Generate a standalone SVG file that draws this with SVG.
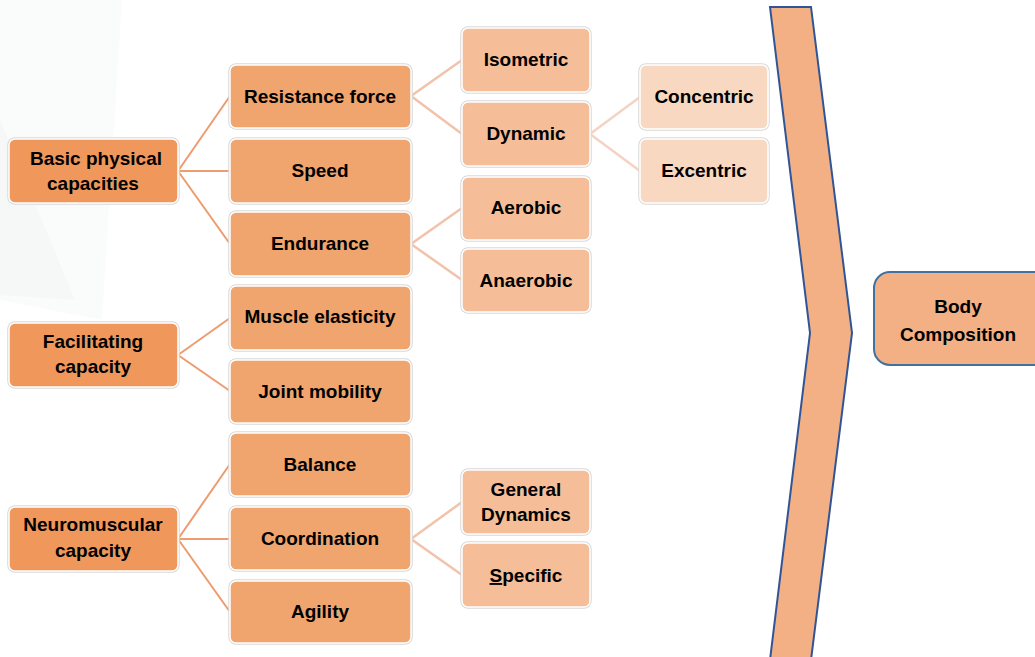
<svg xmlns="http://www.w3.org/2000/svg" width="1035" height="657" viewBox="0 0 1035 657">
<style>
text{font-family:"Liberation Sans",Arial,sans-serif;font-weight:bold;font-size:19px;fill:#000;text-anchor:middle}
.sh{fill:none;stroke:#d9d9d9;stroke-width:3.5}
.bx{stroke:#fff;stroke-width:1.5}
.l1{fill:#F0975C}
.l2{fill:#F0A56E}
.l3{fill:#F5BE98}
.l4{fill:#F8D8C0}
.c1{stroke:#EE9B6E;stroke-width:2;fill:none}
.c2{stroke:#F2C3AA;stroke-width:2.5;fill:none}
.c3{stroke:#F5D3C2;stroke-width:2.5;fill:none}
</style>
<rect width="1035" height="657" fill="#fff"/>
<g id="background">
<polygon points="0,0 122,0 102,320 0,300" fill="#FAFBFB"/>
<polygon points="0,120 75,300 0,295" fill="#F6F8F8"/>
</g>
<g id="connectors">
<path class="c1" d="M178,171 L230,96 M178,171 L230,171 M178,171 L230,244"/>
<path class="c1" d="M178,355 L230,318 M178,355 L230,391"/>
<path class="c1" d="M178,539 L230,464 M178,539 L230,539 M178,539 L230,612"/>
<path class="c2" d="M411,96 L462,60 M411,96 L462,134"/>
<path class="c2" d="M411,244 L462,208 M411,244 L462,280"/>
<path class="c2" d="M411,539 L462,502 M411,539 L462,575"/>
<path class="c3" d="M590,134 L640,97 M590,134 L640,171"/>
</g>
<g id="n-basic"><rect class="sh" x="9" y="139" width="169" height="64" rx="6"/><rect class="bx l1" x="9" y="139" width="169" height="64" rx="6"/><text x="96" y="165">Basic physical</text><text x="93" y="190">capacities</text></g>
<g id="n-facilitating"><rect class="sh" x="9" y="323" width="169" height="64" rx="6"/><rect class="bx l1" x="9" y="323" width="169" height="64" rx="6"/><text x="93" y="348">Facilitating</text><text x="93" y="373">capacity</text></g>
<g id="n-neuromuscular"><rect class="sh" x="9" y="507" width="169" height="64" rx="6"/><rect class="bx l1" x="9" y="507" width="169" height="64" rx="6"/><text x="93" y="531">Neuromuscular</text><text x="93" y="557">capacity</text></g>
<g id="n-resistance"><rect class="sh" x="230" y="65" width="181" height="63" rx="6"/><rect class="bx l2" x="230" y="65" width="181" height="63" rx="6"/><text x="320" y="103">Resistance force</text></g>
<g id="n-speed"><rect class="sh" x="230" y="139" width="181" height="64" rx="6"/><rect class="bx l2" x="230" y="139" width="181" height="64" rx="6"/><text x="320" y="177">Speed</text></g>
<g id="n-endurance"><rect class="sh" x="230" y="212" width="181" height="64" rx="6"/><rect class="bx l2" x="230" y="212" width="181" height="64" rx="6"/><text x="320" y="250">Endurance</text></g>
<g id="n-muscle"><rect class="sh" x="230" y="286" width="181" height="64" rx="6"/><rect class="bx l2" x="230" y="286" width="181" height="64" rx="6"/><text x="320" y="323">Muscle elasticity</text></g>
<g id="n-joint"><rect class="sh" x="230" y="360" width="181" height="63" rx="6"/><rect class="bx l2" x="230" y="360" width="181" height="63" rx="6"/><text x="320" y="398">Joint mobility</text></g>
<g id="n-balance"><rect class="sh" x="230" y="433" width="181" height="63" rx="6"/><rect class="bx l2" x="230" y="433" width="181" height="63" rx="6"/><text x="320" y="471">Balance</text></g>
<g id="n-coordination"><rect class="sh" x="230" y="507" width="181" height="63" rx="6"/><rect class="bx l2" x="230" y="507" width="181" height="63" rx="6"/><text x="320" y="545">Coordination</text></g>
<g id="n-agility"><rect class="sh" x="230" y="581" width="181" height="62" rx="6"/><rect class="bx l2" x="230" y="581" width="181" height="62" rx="6"/><text x="320" y="618">Agility</text></g>
<g id="n-isometric"><rect class="sh" x="462" y="28" width="128" height="64" rx="6"/><rect class="bx l3" x="462" y="28" width="128" height="64" rx="6"/><text x="526" y="66">Isometric</text></g>
<g id="n-dynamic"><rect class="sh" x="462" y="102" width="128" height="64" rx="6"/><rect class="bx l3" x="462" y="102" width="128" height="64" rx="6"/><text x="526" y="140">Dynamic</text></g>
<g id="n-aerobic"><rect class="sh" x="462" y="177" width="128" height="63" rx="6"/><rect class="bx l3" x="462" y="177" width="128" height="63" rx="6"/><text x="526" y="214">Aerobic</text></g>
<g id="n-anaerobic"><rect class="sh" x="462" y="249" width="128" height="63" rx="6"/><rect class="bx l3" x="462" y="249" width="128" height="63" rx="6"/><text x="526" y="287">Anaerobic</text></g>
<g id="n-general"><rect class="sh" x="462" y="470" width="128" height="64" rx="6"/><rect class="bx l3" x="462" y="470" width="128" height="64" rx="6"/><text x="526" y="496">General</text><text x="526" y="521">Dynamics</text></g>
<g id="n-specific"><rect class="sh" x="462" y="543" width="128" height="64" rx="6"/><rect class="bx l3" x="462" y="543" width="128" height="64" rx="6"/><text x="526" y="582"><tspan text-decoration="underline">S</tspan>pecific</text></g>
<g id="n-concentric"><rect class="sh" x="640" y="65" width="128" height="64" rx="6"/><rect class="bx l4" x="640" y="65" width="128" height="64" rx="6"/><text x="704" y="103">Concentric</text></g>
<g id="n-excentric"><rect class="sh" x="640" y="139" width="128" height="64" rx="6"/><rect class="bx l4" x="640" y="139" width="128" height="64" rx="6"/><text x="704" y="177">Excentric</text></g>
<g id="chevron"><polygon points="770,7 811,7 852,333 811,660 770,660 810,333" fill="#F3B084" stroke="#2F5597" stroke-width="2" stroke-linejoin="miter"/></g>
<g id="n-body"><rect x="874" y="272" width="175" height="93" rx="16" fill="#F3B084" stroke="#41719C" stroke-width="2"/><text x="958" y="313">Body</text><text x="958" y="341">Composition</text></g>
</svg>
